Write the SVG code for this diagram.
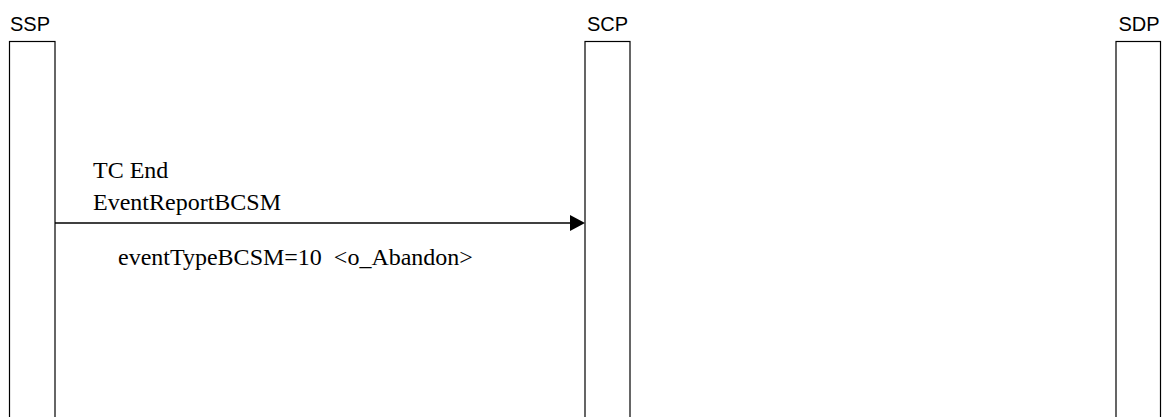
<svg xmlns="http://www.w3.org/2000/svg" width="1168" height="417" viewBox="0 0 1168 417">
<style>
.lbl{font-family:"Liberation Sans",Arial,sans-serif;font-size:20px;fill:#000}
.box{fill:#fff;stroke:#000;stroke-width:1.2}
.msg{font-family:"Liberation Serif","Times New Roman",serif;font-size:24px;fill:#000}
.ln{stroke:#000;stroke-width:1.5;fill:none}
</style>
<rect width="1168" height="417" fill="#fff"/>
<g id="node-ssp">
<text class="lbl" x="10" y="31">SSP</text>
<rect class="box" x="9.5" y="41.5" width="45.5" height="380"/>
</g>
<g id="node-scp">
<text class="lbl" x="607.5" y="31" text-anchor="middle">SCP</text>
<rect class="box" x="585" y="41.5" width="45" height="380"/>
</g>
<g id="node-sdp">
<text class="lbl" x="1139" y="31" text-anchor="middle">SDP</text>
<rect class="box" x="1116" y="41.5" width="44.5" height="380"/>
</g>
<g id="connectors">
<line class="ln" x1="55" y1="223" x2="572" y2="223"/>
<path d="M570,215 L585,223 L570,231 Z" fill="#000"/>
<text class="msg" x="93" y="178">TC End</text>
<text class="msg" x="93" y="210">EventReportBCSM</text>
<text class="msg" x="118" y="265" xml:space="preserve">eventTypeBCSM=10  &lt;o_Abandon&gt;</text>
</g>
</svg>
